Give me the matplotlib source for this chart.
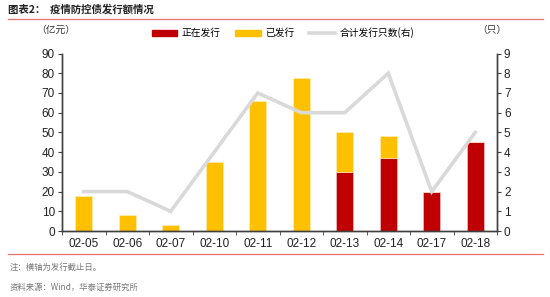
import matplotlib
matplotlib.use("Agg")
import matplotlib.pyplot as plt
from matplotlib.lines import Line2D
from matplotlib.patches import Patch

plt.rcParams['font.family'] = ['Noto Sans CJK SC', 'DejaVu Sans']

dates = ["02-05", "02-06", "02-07", "02-10", "02-11", "02-12", "02-13", "02-14", "02-17", "02-18"]
issuing = [0, 0, 0, 0, 0, 0, 30, 37, 20, 45]        # 正在发行
issued = [18, 8, 3, 35, 66, 77.5, 20, 11, 0, 0]     # 已发行
count = [2, 2, 1, 4, 7, 6, 6, 8, 2, 5]              # 合计发行只数(右)

RED = "#C00000"
YEL = "#FFC000"
GRAY = "#D9D9D9"

fig = plt.figure(figsize=(5.5, 2.97), dpi=100)
ax = fig.add_axes([62/550, 1-231/297, 435/550, (231-53.5)/297])
ax2 = ax.twinx()

x = list(range(len(dates)))
ax.bar(x, issuing, width=0.4, color=RED, edgecolor="#f3d0d0", linewidth=0.4, zorder=2)
ax.bar(x, issued, width=0.4, bottom=issuing, color=YEL, edgecolor="#fff0c0", linewidth=0.4, zorder=2)
ax2.plot(x, count, color=GRAY, linewidth=2.6, solid_joinstyle="miter", zorder=3)

ax.set_xlim(-0.5, len(dates) - 0.5)
ax.set_ylim(0, 90)
ax.set_yticks(range(0, 91, 10))
ax2.set_ylim(0, 9)
ax2.set_yticks(range(0, 10))

NUMFONT = ['Liberation Sans', 'DejaVu Sans']
ax.set_xticks(x)
ax.set_xticklabels(dates, fontsize=8.5, family=NUMFONT, color="#222222")
ax.tick_params(axis='x', length=0, pad=5)
ax.set_xticks([i + 0.5 for i in range(-1, len(dates))], minor=True)
ax.tick_params(axis='x', which='minor', length=3, direction='out', color="#404040")
ax.tick_params(axis='y', labelsize=8.5, length=3, color="#404040", pad=2, labelcolor="#222222")
ax2.tick_params(axis='y', labelsize=8.5, length=3, color="#404040", pad=2, labelcolor="#222222")
for lab in ax.get_yticklabels() + ax2.get_yticklabels():
    lab.set_family(NUMFONT)

for a in (ax, ax2):
    a.spines['top'].set_visible(False)
    for s in ('left', 'right', 'bottom'):
        a.spines[s].set_color("#404040")
        a.spines[s].set_linewidth(1.0)

# Texts
fig.text(8/550, 1-9/297, "图表2：  疫情防控债发行额情况", fontsize=7.5, fontweight='bold',
         va='center', ha='left', color="#222222")
fig.add_artist(Line2D([8/550, 543/550], [1-18.5/297, 1-18.5/297], color="#E8706A", linewidth=0.9))
fig.add_artist(Line2D([8/550, 543/550], [1-254/297, 1-254/297], color="#E8706A", linewidth=0.9))
fig.text(36/550, 1-30/297, "（亿元）", fontsize=7, va='center', ha='left', color="#333333")
fig.text(477/550, 1-30/297, "（只）", fontsize=7, va='center', ha='left', color="#333333")
fig.text(10/550, 1-267/297, "注：横轴为发行截止日。", fontsize=6, va='center', ha='left', color="#777777")
fig.text(10/550, 1-287/297, "资料来源：Wind，华泰证券研究所", fontsize=6, va='center', ha='left', color="#777777")

handles = [Patch(color=RED), Patch(color=YEL), Line2D([], [], color=GRAY, linewidth=2.6)]
labels = ["正在发行", "已发行", "合计发行只数(右)"]
fig.legend(handles, labels, loc='center', bbox_to_anchor=(283/550, 1-33/297), ncol=3,
           frameon=False, fontsize=7, handlelength=2.6, handleheight=0.5, columnspacing=1.5,
           handletextpad=0.5)

fig.savefig("out.png", dpi=100)
